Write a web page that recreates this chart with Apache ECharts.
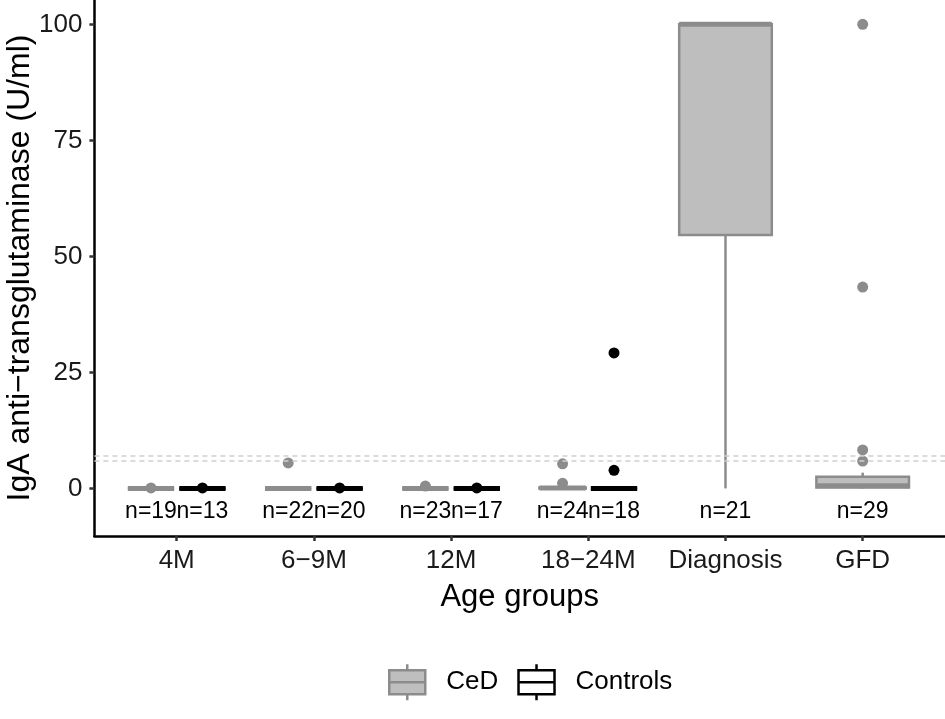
<!DOCTYPE html>
<html>
<head>
<meta charset="utf-8">
<script src="https://cdn.jsdelivr.net/npm/echarts@6/dist/echarts.min.js"></script>
<style>
  html, body { margin: 0; padding: 0; background: #fff; }
  #main { width: 945px; height: 719px; }
</style>
</head>
<body>
<div id="main"></div>
<script>
var categories = ['4M', '6\u22129M', '12M', '18\u221224M', 'Diagnosis', 'GFD'];
var yTicks = [0, 25, 50, 75, 100];

// box stats per group: [min, Q1, median, Q3, max]
var cedBox = [
    [0, 0, 0, 0, 0],
    [0, 0, 0, 0, 0],
    [0, 0, 0, 0, 0],
    [0, 0, 0.1, 0.2, 0.4],
    [0, 54.6, 100, 100, 100],
    [0, 0.2, 0.6, 2.5, 3.4]
];
var ctrlBox = [
    [0, 0, 0, 0, 0],
    [0, 0, 0, 0, 0],
    [0, 0, 0, 0, 0],
    [0, 0, 0, 0, 0],
    null,
    null
];

// outliers: [group index, value]
var cedOutliers = [[0, 0.1], [1, 5.5], [2, 0.5], [3, 1.1], [3, 5.3], [5, 100], [5, 43.4], [5, 8.3], [5, 5.9]];
var ctrlOutliers = [[0, 0.1], [1, 0.1], [2, 0.1], [3, 29.2], [3, 3.9]];

var cedN = [19, 22, 23, 24, 21, 29];
var ctrlN = [13, 20, 17, 18, null, null];

var cutoffs = [6, 7];
var nLabelY = -5;

var CED_LINE = '#8c8c8c', CED_FILL = '#bebebe';
var CTRL_LINE = '#000000', CTRL_FILL = '#ffffff';
var FONT = 'Liberation Sans, Arial, Helvetica, sans-serif';

// dodge like ggplot: two boxes share a slot, a lone box takes the whole slot
var DODGE = 0.1875, NARROW = 0.3375, WIDE = 0.675;
function hasControls(i) { return ctrlBox[i] != null; }
function boxCenter(i, side) { return hasControls(i) ? i + side * DODGE : i; }
function boxWidth(i) { return hasControls(i) ? NARROW : WIDE; }

function boxData(list) {
    var out = [];
    list.forEach(function (s, i) { if (s) out.push([i].concat(s)); });
    return out;
}

function boxRenderer(side, lineColor, fillColor) {
    return function (params, api) {
        var i = api.value(0);
        var cx = boxCenter(i, side);
        var half = api.size([boxWidth(i), 0])[0] / 2;
        var pMin = api.coord([cx, api.value(1)]);
        var pQ1 = api.coord([cx, api.value(2)]);
        var pMed = api.coord([cx, api.value(3)]);
        var pQ3 = api.coord([cx, api.value(4)]);
        var pMax = api.coord([cx, api.value(5)]);
        var x = pQ1[0];
        var st = { stroke: lineColor, lineWidth: 2.5 };
        return {
            type: 'group',
            children: [
                { type: 'line', shape: { x1: x, y1: pMax[1], x2: x, y2: pQ3[1] }, style: st },
                { type: 'line', shape: { x1: x, y1: pQ1[1], x2: x, y2: pMin[1] }, style: st },
                { type: 'rect', shape: { x: x - half, y: pQ3[1], width: half * 2, height: pQ1[1] - pQ3[1] },
                  style: { fill: fillColor, stroke: lineColor, lineWidth: 2.5 } },
                { type: 'line', shape: { x1: x - half, y1: pMed[1], x2: x + half, y2: pMed[1] },
                  style: { stroke: lineColor, lineWidth: 5 } }
            ]
        };
    };
}

function outlierData(list, side) {
    return list.map(function (p) { return [boxCenter(p[0], side), p[1]]; });
}

function nData(list) {
    var out = [];
    list.forEach(function (n, i) { if (n != null) out.push([i, n]); });
    return out;
}

function nRenderer(side) {
    return function (params, api) {
        var i = api.value(0);
        var p = api.coord([boxCenter(i, side), nLabelY]);
        return {
            type: 'text',
            style: {
                x: p[0], y: p[1], text: 'n=' + api.value(1),
                align: 'center', verticalAlign: 'middle',
                fill: '#000', font: '23px ' + FONT
            }
        };
    };
}

var boxIcon = 'path://M18,0L18,6M0,6L36,6L36,30L0,30ZM0,18L36,18M18,30L18,36';

var myChart = echarts.init(document.getElementById('main'));
var option = {
    animation: false,
    backgroundColor: '#fff',
    textStyle: { fontFamily: FONT },
    grid: { left: 94.4, right: 0, top: 0, bottom: 183, outerBoundsMode: 'none', containLabel: false },
    legend: {
        left: 383,
        top: 658,
        itemWidth: 36,
        itemHeight: 36,
        itemGap: 19,
        textStyle: { fontSize: 26, color: '#000', fontFamily: FONT, padding: [0, 0, 0, 16] },
        data: [
            { name: 'CeD', icon: boxIcon, itemStyle: { color: CED_FILL, borderColor: CED_LINE, borderWidth: 2.5 } },
            { name: 'Controls', icon: boxIcon, itemStyle: { color: CTRL_FILL, borderColor: CTRL_LINE, borderWidth: 2.5 } }
        ]
    },
    xAxis: {
        type: 'value',
        min: -0.6,
        max: 5.6,
        name: 'Age groups',
        nameLocation: 'middle',
        nameGap: 46,
        nameMoveOverlap: false,
        nameTextStyle: { fontSize: 31, color: '#000', fontFamily: FONT },
        splitLine: { show: false },
        axisLine: { onZero: false, lineStyle: { color: '#000', width: 2.5 } },
        axisTick: { customValues: [0, 1, 2, 3, 4, 5], length: 5, lineStyle: { color: '#333', width: 2.5 } },
        axisLabel: {
            customValues: [0, 1, 2, 3, 4, 5],
            margin: 12,
            fontSize: 26,
            color: '#1a1a1a',
            formatter: function (v) { return categories[Math.round(v)]; }
        }
    },
    yAxis: {
        type: 'value',
        min: -10.25,
        max: 105.25,
        name: 'IgA anti\u2212transglutaminase (U/ml)',
        nameLocation: 'middle',
        nameGap: 58,
        nameMoveOverlap: false,
        nameRotate: 90,
        nameTextStyle: { fontSize: 32, color: '#000', fontFamily: FONT },
        splitLine: { show: false },
        axisLine: { show: true, onZero: false, lineStyle: { color: '#000', width: 2.5 } },
        axisTick: { show: true, customValues: yTicks, length: 5, lineStyle: { color: '#333', width: 2.5 } },
        axisLabel: { customValues: yTicks, margin: 12, fontSize: 26, color: '#1a1a1a' }
    },
    series: [
        {
            name: 'cutoffs',
            type: 'line',
            data: [],
            z: 1,
            markLine: {
                silent: true,
                symbol: 'none',
                label: { show: false },
                lineStyle: { color: '#cfcfcf', type: [5, 4], width: 1.5 },
                data: cutoffs.map(function (c) { return { yAxis: c }; })
            }
        },
        {
            name: 'CeD',
            type: 'custom',
            z: 2,
            itemStyle: { color: CED_FILL },
            renderItem: boxRenderer(-1, CED_LINE, CED_FILL),
            encode: { x: 0, y: [1, 2, 3, 4, 5] },
            data: boxData(cedBox)
        },
        {
            name: 'Controls',
            type: 'custom',
            z: 2,
            itemStyle: { color: CTRL_FILL },
            renderItem: boxRenderer(1, CTRL_LINE, CTRL_FILL),
            encode: { x: 0, y: [1, 2, 3, 4, 5] },
            data: boxData(ctrlBox)
        },
        {
            name: 'CeD',
            type: 'scatter',
            z: 3,
            symbolSize: 11,
            itemStyle: { color: CED_LINE, opacity: 1 },
            data: outlierData(cedOutliers, -1)
        },
        {
            name: 'Controls',
            type: 'scatter',
            z: 3,
            symbolSize: 11,
            itemStyle: { color: CTRL_LINE, opacity: 1 },
            data: outlierData(ctrlOutliers, 1)
        },
        {
            name: 'nCeD',
            type: 'custom',
            z: 4,
            renderItem: nRenderer(-1),
            encode: { x: 0, y: 1 },
            data: nData(cedN)
        },
        {
            name: 'nControls',
            type: 'custom',
            z: 4,
            renderItem: nRenderer(1),
            encode: { x: 0, y: 1 },
            data: nData(ctrlN)
        }
    ]
};
myChart.setOption(option);
</script>
</body>
</html>
